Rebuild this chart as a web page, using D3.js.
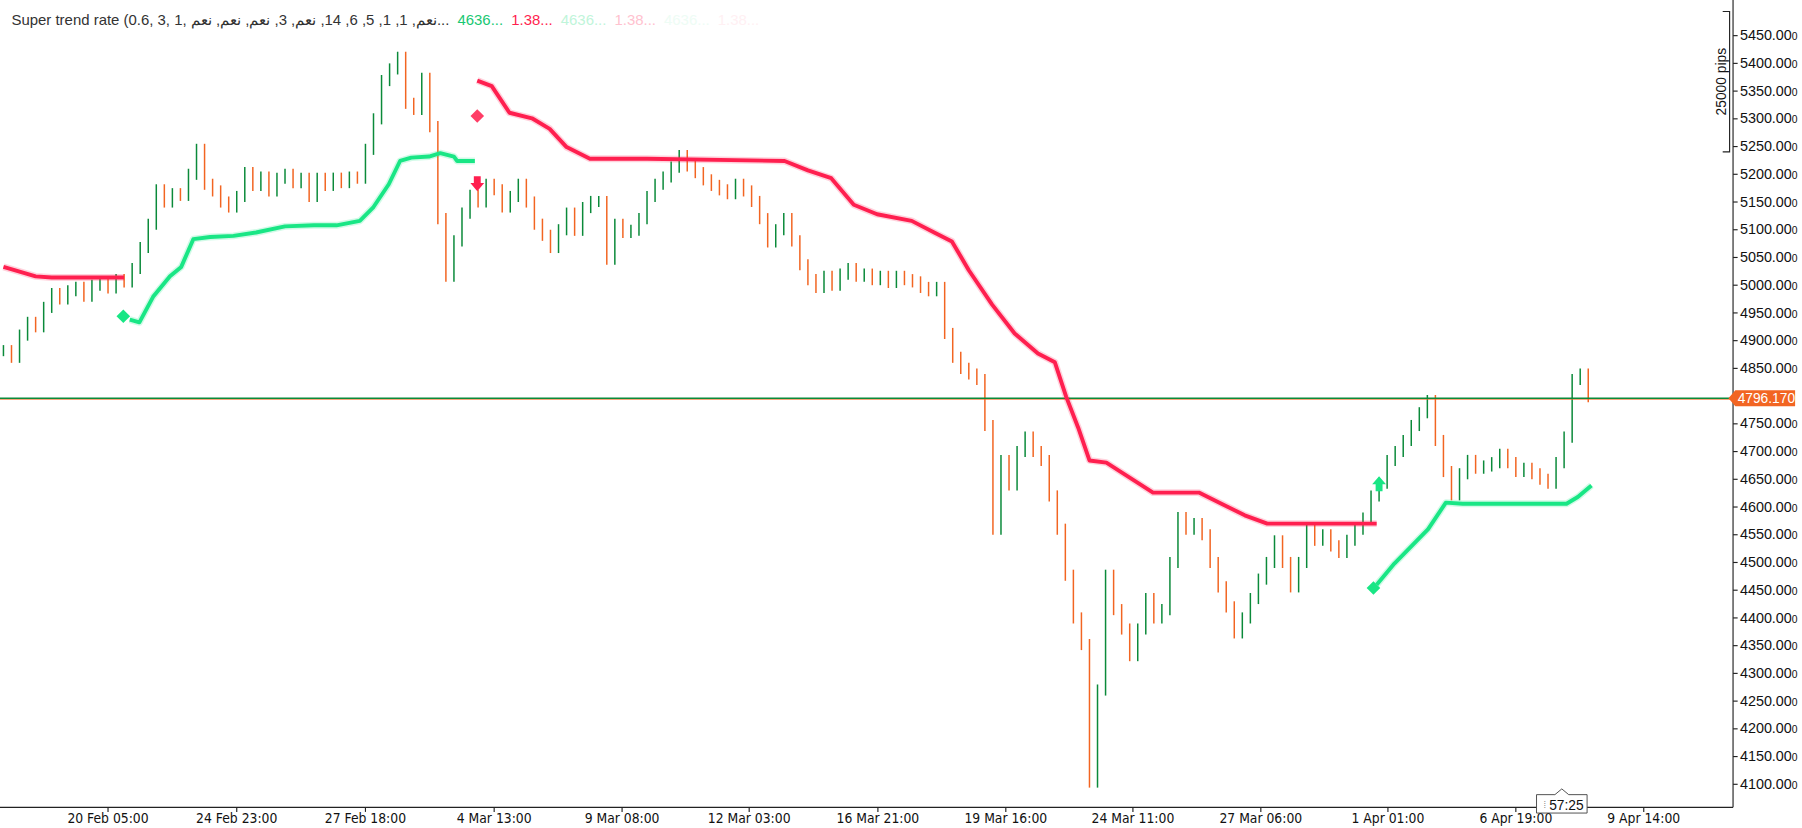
<!DOCTYPE html>
<html lang="en">
<head>
<meta charset="UTF-8">
<title>Super trend</title>
<style>
    body { margin: 0; background: #fff; }
    text { font-family: 'Liberation Sans', Arial, sans-serif; fill: #111; }
    .xlab { font-family: 'Liberation Sans Narrow', 'DejaVu Sans Condensed', sans-serif; font-size: 12px; }
    .ylab { font-size: 12.5px; }
</style>
</head>
<body>
<script src="https://d3js.org/d3.v7.min.js"></script>
<script>
    const W = 1568, H = 720;

    // closes, one per bar
    const closes = [
        4882,4870,4910,4933,4925,4960,4985,4975,4990,4996,
        4980,5000,5006,4995,5010,5006,5030,5068,5110,5172,
        5150,5165,5162,5200,5245,5182,5170,5150,5141,5160,
        5203,5180,5195,5170,5193,5200,5185,5193,5160,5193,
        5180,5193,5185,5195,5193,5245,5300,5369,5390,5411,
        5328,5317,5373,5286,5120,5016,5080,5130,5162,5150,
        5182,5172,5141,5160,5182,5150,5110,5090,5068,5100,
        5130,5099,5140,5151,5151,5047,5110,5095,5099,5120,
        5160,5182,5195,5213,5234,5215,5203,5190,5180,5172,
        5165,5182,5170,5151,5120,5078,5100,5120,5080,5037,
        5010,4996,5016,5000,5020,5030,5016,5020,5010,5016,
        5005,5016,5010,5006,4996,4990,4996,4913,4870,4850,
        4840,4830,4747,4560,4684,4640,4700,4726,4700,4684,
        4620,4560,4477,4400,4352,4104,4270,4477,4415,4380,
        4332,4380,4435,4400,4415,4500,4581,4560,4570,4550,
        4500,4456,4420,4373,4400,4435,4470,4500,4539,4500,
        4456,4500,4560,4540,4550,4530,4518,4540,4560,4580,
        4620,4643,4684,4700,4720,4747,4770,4792,4720,4664,
        4622,4660,4684,4670,4674,4680,4695,4680,4664,4670,
        4660,4650,4643,4680,4726,4830,4840,4799
    ];

    // supertrend segments: [bar, value]
    const redDown1 = [[0,5033],[4,5016],[6,5014],[15,5014]];
    const greenUp1 = [[15.7,4938],[16.9,4933],[18.6,4979],[20.7,5016],[22.1,5033],[23.6,5083],[25.7,5087],
        [28.6,5089],[31.4,5095],[35,5106],[38.6,5108],[41.4,5108],[44.3,5116],[46,5141],[47.9,5182],
        [49.3,5224],[50.7,5230],[52.9,5232],[54.3,5238],[56,5232],[56.4,5224],[58.6,5224]];
    const redDown2 = [[58.9,5369],[60.7,5359],[62.9,5311],[65.7,5301],[67.9,5282],[70,5249],[72.9,5228],
        [80,5228],[97.1,5224],[100,5207],[102.9,5193],[105.7,5145],[108.6,5128],[112.9,5116],[115.7,5095],
        [117.9,5079],[120,5027],[122.9,4965],[125.7,4913],[128.6,4877],[130.7,4861],[132.1,4799],
        [133.6,4743],[135,4684],[137.1,4680],[140,4653],[142.9,4626],[148.6,4626],[151.4,4606],
        [154.3,4585],[157.1,4570],[170.7,4570]];
    const greenUp2 = [[170.7,4460],[172.9,4498],[175,4529],[177.1,4560],[179.3,4608],[181.4,4606],
        [194.3,4606],[195.7,4618],[197.4,4639]];
    const greenDiamonds = [[14.9,4944],[170.3,4454]];
    const redDiamonds = [[58.9,5305]];
    const downArrows = [[58.9,5182]];
    const upArrows = [[171,4643]];

    const lastPrice = 4796.170;
    const yTicks = d3.range(4100, 5451, 50);
    const xTickBars = [13,29,45,61,76.9,92.7,108.7,124.6,140.4,156.3,172.1,188,203.9];
    const xTickLabels = ['20 Feb 05:00','24 Feb 23:00','27 Feb 18:00','4 Mar 13:00','9 Mar 08:00',
        '12 Mar 03:00','16 Mar 21:00','19 Mar 16:00','24 Mar 11:00','27 Mar 06:00','1 Apr 01:00',
        '6 Apr 19:00','9 Apr 14:00'];
    const headerName = 'Super trend rate (0.6, 3, 1, نعم, 1, 1, 5, 6, 14, نعم, 3, نعم, نعم, نعم...';
    const headerValues = [['4636...', '#19c873'], ['1.38...', '#ff1f4f'], ['4636...', '#bff5da'],
        ['1.38...', '#ffc2cf'], ['4636...', '#eefcf5'], ['1.38...', '#fff0f3']];

    const axisX = 1508, axisY = 702;
    const x = d3.scaleLinear().domain([0, 197]).range([3, 1382]);
    const y = d3.scaleLinear().domain([4100, 5450]).range([682, 31]);

    let svg = d3.select('body').append('svg')
        .attr('width', 1802).attr('height', 828)
        .attr('viewBox', '0 0 ' + W + ' ' + H)
        .attr('preserveAspectRatio', 'none');

    let plot = svg.append('g');

    // bars (open = previous close)
    let bars = closes.map(function(c, i) {
        let o = i > 0 ? closes[i - 1] : c;
        return {i: i, o: o, c: c, hi: Math.max(o, c) + 10, lo: Math.min(o, c) - 10};
    });
    plot.selectAll('line.bar').data(bars).enter().append('line')
        .attr('x1', d => x(d.i)).attr('x2', d => x(d.i))
        .attr('y1', d => y(d.hi)).attr('y2', d => y(d.lo))
        .style('stroke', d => d.c >= d.o ? '#0b8a3a' : '#f26522')
        .style('stroke-width', 1.3);

    // current price line
    plot.append('line').attr('x1', 0).attr('x2', axisX)
        .attr('y1', y(lastPrice) + 0.8).attr('y2', y(lastPrice) + 0.8)
        .style('stroke', '#f26522').style('stroke-width', 0.8);
    plot.append('line').attr('x1', 0).attr('x2', axisX)
        .attr('y1', y(lastPrice)).attr('y2', y(lastPrice))
        .style('stroke', '#0b8a3a').style('stroke-width', 1.2);

    const line = d3.line().x(d => x(d[0])).y(d => y(d[1]));
    function trend(data, col) {
        plot.append('path').datum(data).attr('d', line)
            .style('fill', 'none').style('stroke', col).style('stroke-opacity', 0.2)
            .style('stroke-width', 6).style('stroke-linejoin', 'round');
        plot.append('path').datum(data).attr('d', line)
            .style('fill', 'none').style('stroke', col)
            .style('stroke-width', 3.4).style('stroke-linejoin', 'round');
    }
    trend(redDown1, '#ff1f4f');
    trend(greenUp1, '#19e685');
    trend(redDown2, '#ff1f4f');
    trend(greenUp2, '#19e685');

    function diamonds(data, col) {
        plot.selectAll(null).data(data).enter().append('path')
            .attr('d', d3.symbol(d3.symbolSquare, 70))
            .attr('transform', d => 'translate(' + x(d[0]) + ',' + y(d[1]) + ') rotate(45)')
            .style('fill', col);
    }
    diamonds(greenDiamonds, '#19e685');
    diamonds(redDiamonds, '#ff3d66');

    const arrowPath = 'M-3,-7 L3,-7 L3,-1 L6,-1 L0,6 L-6,-1 L-3,-1 Z';
    plot.selectAll(null).data(downArrows).enter().append('path')
        .attr('d', arrowPath)
        .attr('transform', d => 'translate(' + x(d[0]) + ',' + y(d[1]) + ')')
        .style('fill', '#ff1f4f');
    plot.selectAll(null).data(upArrows).enter().append('path')
        .attr('d', arrowPath)
        .attr('transform', d => 'translate(' + x(d[0]) + ',' + y(d[1]) + ') rotate(180)')
        .style('fill', '#19e685');

    // right axis
    svg.append('line').attr('x1', axisX).attr('x2', axisX).attr('y1', 0).attr('y2', axisY)
        .style('stroke', '#222').style('stroke-width', 1);
    let yAx = svg.append('g');
    yTicks.forEach(function(v) {
        yAx.append('line').attr('x1', axisX).attr('x2', axisX + 4)
            .attr('y1', y(v)).attr('y2', y(v)).style('stroke', '#222');
        if (Math.abs(v - lastPrice) < 15) return; // hidden under the price label
        let t = yAx.append('text').attr('class', 'ylab')
            .attr('x', axisX + 6).attr('y', y(v) + 4);
        t.append('tspan').text(v.toFixed(2));
        t.append('tspan').text('0').style('font-size', '9px');
    });

    // last price label
    let lp = svg.append('g').attr('transform', 'translate(' + (axisX - 4) + ',' + y(lastPrice) + ')');
    lp.append('path').attr('d', 'M0,0 L6,-7 L58,-7 L58,7 L6,7 Z').style('fill', '#f26522');
    lp.append('text').attr('x', 33).attr('y', 4.5).attr('text-anchor', 'middle')
        .style('fill', '#fff').style('font-size', '12px').text(lastPrice.toFixed(3));

    // pips bracket
    let pb = svg.append('g');
    pb.append('path').attr('d', 'M1499,10 L1505,10 L1505,132 L1499,132')
        .style('fill', 'none').style('stroke', '#222');
    pb.append('text').attr('transform', 'translate(1502,71) rotate(-90)')
        .attr('text-anchor', 'middle').style('font-size', '12px').text('25000 pips');

    // bottom axis
    svg.append('line').attr('x1', 0).attr('x2', axisX).attr('y1', axisY).attr('y2', axisY)
        .style('stroke', '#222');
    let xAx = svg.append('g');
    xTickBars.forEach(function(b, k) {
        xAx.append('line').attr('x1', x(b)).attr('x2', x(b))
            .attr('y1', axisY).attr('y2', axisY + 4).style('stroke', '#222');
        xAx.append('text').attr('class', 'xlab').attr('x', x(b)).attr('y', 716)
            .attr('text-anchor', 'middle').text(xTickLabels[k]);
    });

    // countdown
    let cd = svg.append('g').attr('transform', 'translate(1359,697)');
    cd.append('path').attr('d', 'M-22,-6 L-6,-6 L0,-11 L6,-6 L22,-6 L22,10 L-22,10 Z')
        .style('fill', '#fff').style('stroke', '#444').style('stroke-width', 0.8);
    cd.append('text').attr('x', 4).attr('y', 7).attr('text-anchor', 'middle')
        .style('font-size', '12px').text('57:25');
    cd.append('text').attr('x', -16).attr('y', 6).style('font-size', '8px').style('fill', '#888').text('⁞');

    // header: separate texts laid out left to right
    let hx = 10;
    let name = svg.append('text').attr('x', hx).attr('y', 22)
        .attr('direction', 'ltr').style('unicode-bidi', 'embed')
        .style('font-size', '13px').style('fill', '#333').text(headerName);
    hx += name.node().getComputedTextLength() + 7;
    headerValues.forEach(function(hv) {
        let t = svg.append('text').attr('x', hx).attr('y', 22)
            .style('font-size', '13px').style('fill', hv[1]).text(hv[0]);
        hx += t.node().getComputedTextLength() + 7;
    });
</script>
</body>
</html>
